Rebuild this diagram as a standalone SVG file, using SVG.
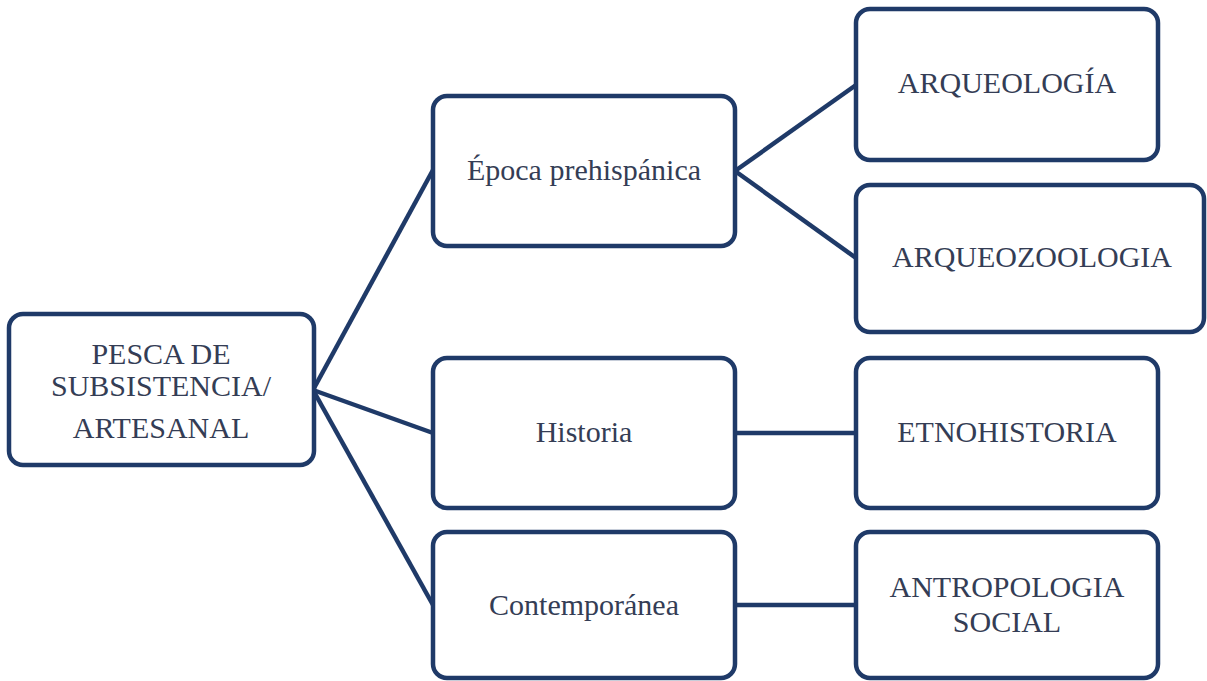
<svg xmlns="http://www.w3.org/2000/svg" width="1207" height="681" viewBox="0 0 1207 681">
<style>
.box{fill:#ffffff;stroke:#1f3a68;stroke-width:4.5}
.lnk{fill:none;stroke:#1f3a68;stroke-width:4.5}
.t{font-family:"Liberation Serif","Times New Roman",serif;font-size:30px;fill:#343d55;text-anchor:middle}
</style>
<rect width="1207" height="681" fill="#ffffff"/>
<g id="connectors">
<line class="lnk" x1="313" y1="390" x2="433" y2="170"/>
<line class="lnk" x1="313" y1="390" x2="433" y2="433"/>
<line class="lnk" x1="313" y1="390" x2="433" y2="605"/>
<line class="lnk" x1="735" y1="171" x2="856" y2="85"/>
<line class="lnk" x1="735" y1="171" x2="856" y2="258"/>
<line class="lnk" x1="735" y1="433" x2="856" y2="433"/>
<line class="lnk" x1="735" y1="605" x2="856" y2="605"/>
</g>
<g id="root">
<rect class="box" x="9" y="314" width="305" height="151" rx="14"/>
<text class="t" x="161" y="364">PESCA DE</text>
<text class="t" x="161" y="396">SUBSISTENCIA/</text>
<text class="t" x="161" y="438">ARTESANAL</text>
</g>
<g id="epoca">
<rect class="box" x="433" y="96" width="302" height="150" rx="14"/>
<text class="t" x="584" y="180">Época prehispánica</text>
</g>
<g id="historia">
<rect class="box" x="433" y="358" width="302" height="150" rx="14"/>
<text class="t" x="584" y="442">Historia</text>
</g>
<g id="contemporanea">
<rect class="box" x="433" y="532" width="302" height="146" rx="14"/>
<text class="t" x="584" y="615">Contemporánea</text>
</g>
<g id="arqueologia">
<rect class="box" x="856" y="9" width="302" height="151" rx="14"/>
<text class="t" x="1007" y="93">ARQUEOLOGÍA</text>
</g>
<g id="arqueozoologia">
<rect class="box" x="856" y="185" width="348" height="147" rx="14"/>
<text class="t" x="1032" y="267">ARQUEOZOOLOGIA</text>
</g>
<g id="etnohistoria">
<rect class="box" x="856" y="358" width="302" height="150" rx="14"/>
<text class="t" x="1007" y="442">ETNOHISTORIA</text>
</g>
<g id="antropologia">
<rect class="box" x="856" y="532" width="302" height="146" rx="14"/>
<text class="t" x="1007" y="597">ANTROPOLOGIA</text>
<text class="t" x="1007" y="632">SOCIAL</text>
</g>
</svg>
